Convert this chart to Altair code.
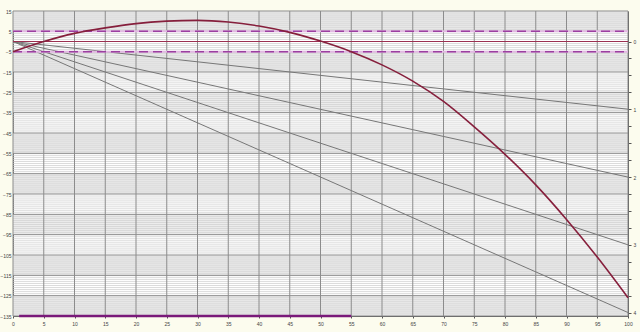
import altair as alt
import pandas as pd

# ---- data ----
range_x = [0, 5, 10, 15, 20, 25, 30, 35, 40, 45, 50, 55, 60, 65, 70, 75, 80, 85, 90, 95, 100]
trajectory = [-5, 0, 4, 6.7, 8.8, 10, 10.4, 9.6, 7.6, 4.5, 0.2, -5, -11.5, -19.5, -29.5, -42,
              -55.5, -70.5, -87.5, -106, -126]
ref_end_x = [0, 100]
ref_lines_end = [-33.3, -66.7, -100, -133.3]   # drop at 100 for right-axis marks 1..4
dashed_levels = [5, -5]
solid_level = [0]
band_top = [-25, -45, -65, -85, -105, -125, -5, 15]
band_bottom = [-35, -55, -75, -95, -115, -135, -15, 5]
bottom_bar_x = [1, 55]
bottom_bar_y = -135
x_ticks = list(range(0, 101, 5))
y_minor = [v for v in range(-135, 16) if abs(v) % 10 != 5]
y_major = list(range(-135, 16, 10))
right_ticks = [0, 1, 2, 3, 4]

W, H = 615, 305
YDOM = [-135, 15]
FONT = "Liberation Sans"

xs = alt.Scale(domain=[0, 100], nice=False, zero=False)
ys = alt.Scale(domain=YDOM, nice=False, zero=False)

traj_df = pd.DataFrame({"x": range_x, "y": trajectory})
bands_df = pd.DataFrame({"y": band_top, "y2": band_bottom})
ref_rows = []
for i, e in enumerate(ref_lines_end):
    ref_rows.append({"x": ref_end_x[0], "y": 0, "k": i})
    ref_rows.append({"x": ref_end_x[1], "y": e, "k": i})
ref_df = pd.DataFrame(ref_rows)
dash_df = pd.DataFrame({"y": dashed_levels})
solid_df = pd.DataFrame({"y": solid_level})
bar_df = pd.DataFrame({"x": [bottom_bar_x[0]], "x2": [bottom_bar_x[1]], "y": [bottom_bar_y]})
minor_df = pd.DataFrame({"y": y_minor})
major_df = pd.DataFrame({"y": y_major})
vgrid_df = pd.DataFrame({"x": x_ticks})

xaxis = alt.Axis(values=x_ticks, title=None, grid=False, format="d",
                 labelFontSize=5, labelColor="#444", labelFont=FONT, tickSize=2, tickColor="#555",
                 domainColor="#555", labelPadding=3, labelFlush=False, labelOverlap=False)
yaxis = alt.Axis(values=y_major, title=None, grid=False, format="d",
                 labelFontSize=5, labelColor="#444", labelFont=FONT, tickSize=0,
                 domainColor="#555", labelPadding=2, labelOverlap=False)


def Y(field="y"):
    return alt.Y(f"{field}:Q", scale=ys, axis=yaxis, title=None)


def X(field="x"):
    return alt.X(f"{field}:Q", scale=xs, axis=xaxis, title=None)


bands = alt.Chart(bands_df).mark_rect(color="#ececec").encode(
    x=alt.value(0), x2=alt.value(W), y=Y(), y2="y2:Q")

minor = alt.Chart(minor_df).mark_rule(color="#d2d2d2", strokeWidth=0.8).encode(
    y=Y(), x=alt.value(0), x2=alt.value(W))
major = alt.Chart(major_df).mark_rule(color="#8a8a8a", strokeWidth=1).encode(
    y=Y(), x=alt.value(0), x2=alt.value(W))
vgrid = alt.Chart(vgrid_df).mark_rule(color="#8c8c8c", strokeWidth=1).encode(
    x=X(), y=alt.value(0), y2=alt.value(H))

ref = alt.Chart(ref_df).mark_line(color="#777777", strokeWidth=1).encode(
    x=X(), y=Y(), detail="k:N")

dash_bg = alt.Chart(dash_df).mark_rule(color="#e2b8e2", strokeWidth=2).encode(
    y=Y(), x=alt.value(0), x2=alt.value(W))
dash_fg = alt.Chart(dash_df).mark_rule(color="#9b3fa0", strokeWidth=1.5, strokeDash=[9, 5]).encode(
    y=Y(), x=alt.value(0), x2=alt.value(W))
solid = alt.Chart(solid_df).mark_rule(color="#9b3050", strokeWidth=1).encode(
    y=Y(), x=alt.value(0), x2=alt.value(W))

traj = alt.Chart(traj_df).mark_line(color="#861f3c", strokeWidth=1.6, interpolate="monotone").encode(
    x=X(), y=Y())

bar = alt.Chart(bar_df).mark_rule(color="#7a1a7a", strokeWidth=2.5).encode(
    x=X(), x2="x2:Q", y=Y())

right_df = pd.DataFrame({"k": [0]})
right_axis = alt.Chart(right_df).mark_point(opacity=0).encode(
    y=alt.Y("k:Q", scale=alt.Scale(domain=[-YDOM[0] / 33.33, -YDOM[1] / 33.33], nice=False, zero=False),
            axis=alt.Axis(orient="right", values=[v / 4 for v in range(0, 17)], title=None, grid=False,
                          labelExpr="datum.value % 1 === 0 ? format(datum.value, 'd') : ''",
                          labelFontSize=5, labelColor="#444", labelFont=FONT, tickSize=3,
                          tickColor="#555", domainColor="#555", labelPadding=2, labelOverlap=False)))

left = alt.layer(bands, minor, major, vgrid, ref, dash_bg, dash_fg, solid, traj, bar)
chart = alt.layer(left, right_axis).resolve_scale(y="independent").properties(
    width=W, height=H,
    background="#fcfcee",
    autosize=alt.AutoSizeParams(type="none"),
    padding={"left": 13, "top": 11, "right": 12, "bottom": 16},
).configure_view(stroke=None, fill="#ffffff")

chart.save("out.html", embed_options={"renderer": "svg", "actions": False})
